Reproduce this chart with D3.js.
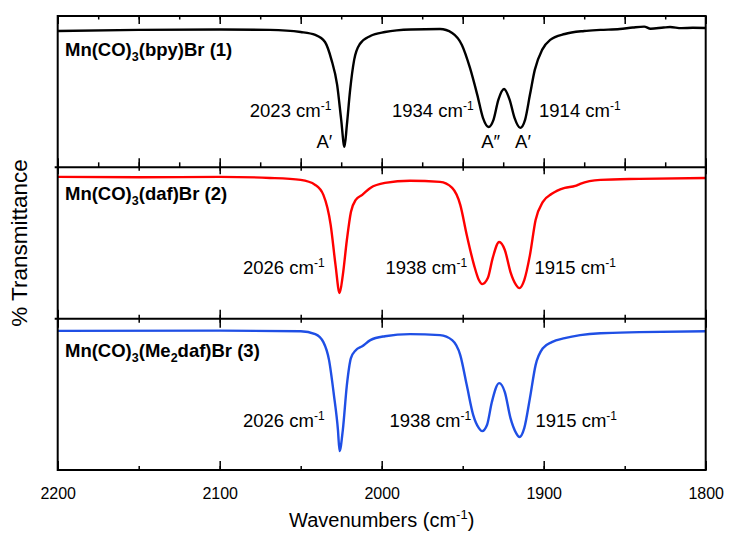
<!DOCTYPE html>
<html>
<head>
<meta charset="utf-8">
<script src="https://cdn.jsdelivr.net/npm/d3@7"></script>
<style>
  body { margin: 0; background: #fff; }
  svg { font-family: "Liberation Sans", Arial, sans-serif; }
</style>
</head>
<body>
<svg id="chart"></svg>
<script>
// Chart size
const width = 729, height = 536;
const margin = {left: 57.7, right: 23.3, top: 16, bottom: 66};

// --- data (wavenumber in cm-1, relative % transmittance per panel) ---
const bpyWn = [2200, 2150, 2100, 2069, 2050, 2041, 2035, 2031, 2027.5, 2025, 2023, 2021.5, 2019.5, 2017, 2013.5, 2007,
  1998, 1982, 1964, 1956.5, 1950.5, 1945.5, 1941, 1937.5, 1934, 1931, 1928, 1924.5, 1921, 1918, 1914.5, 1911.5,
  1908.5, 1905.5, 1901, 1896, 1887, 1875, 1865, 1853, 1845, 1838, 1834, 1826, 1822, 1815, 1808, 1800];
const bpyT = [90.1, 90.8, 91.1, 90.8, 89.4, 87.5, 82.8, 71, 54.5, 31.4, 13.5, 28, 51, 71, 81.5, 86.8,
  89.4, 91.1, 91.4, 88.8, 80.9, 65.7, 47.9, 32.7, 26.7, 31.4, 44.6, 51.8, 44.6, 32.7, 26.1, 31.4,
  47.9, 64.4, 77.6, 84.2, 88.1, 90.1, 90.8, 91.4, 92.4, 93.0, 91.6, 92.4, 92.7, 92.0, 92.2, 92.1];

const dafWn = [2200, 2149, 2100, 2069, 2050, 2041, 2036, 2031.5, 2028.5, 2026, 2024, 2021.5, 2019, 2016, 2012, 2007,
  1998, 1982.5, 1964, 1956.5, 1951.5, 1947.5, 1943, 1940, 1938, 1934.5, 1931.5, 1927.5, 1924, 1920.5, 1917, 1915,
  1912, 1908.5, 1905, 1900.5, 1895, 1887, 1880.5, 1877.5, 1865, 1841, 1800];
const dafT = [93.7, 93.4, 93.7, 93, 91.7, 88.4, 81.8, 62, 35.4, 16.9, 28.8, 52, 70.5, 78.5, 81.8, 86.4,
  89.7, 91.1, 90.4, 86.4, 75.2, 55.3, 35.4, 25.5, 22.8, 26.8, 40, 50.7, 45.4, 30.8, 22.2, 20.2,
  25.5, 42, 65.2, 77.2, 82.5, 86.4, 87.7, 89.1, 91.7, 92.4, 93];

const me2Wn = [2200, 2100, 2050, 2041, 2036, 2032.5, 2029.5, 2027, 2026, 2024, 2021.5, 2019, 2016, 2012, 2007,
  1998, 1982.5, 1964, 1956.5, 1951.5, 1947.5, 1943.5, 1940, 1938, 1935, 1932, 1927.5, 1924, 1920.5, 1917, 1915,
  1912, 1908.5, 1905, 1900.5, 1895, 1887, 1877.5, 1865, 1841, 1800];
const me2T = [91.9, 92.1, 91.7, 89.8, 84.5, 72.6, 49.5, 26.4, 12.5, 26.4, 56.1, 73.9, 79.2, 81.8, 85.8,
  88.4, 89.8, 89.1, 85.8, 75.9, 56.1, 36.3, 27.7, 25.7, 29.7, 44.9, 57.4, 51.5, 34.3, 24.4, 21.8,
  27.7, 47.5, 69.3, 80.5, 84.5, 87.1, 89.1, 90.4, 91.1, 91.7];

// peak labels
const bpyPeaks = [2023, 1934, 1914];
const bpySym = ["A\u2032", "A\u2033", "A\u2032"];
const dafPeaks = [2026, 1938, 1915];
const me2Peaks = [2026, 1938, 1915];

// axis ticks
const xTickLabels = [2200, 2100, 2000, 1900, 1800];

// --- setup ---
const svg = d3.select("#chart")
  .attr("width", width)
  .attr("height", height);

const x = d3.scaleLinear()
  .domain([2200, 1800])
  .range([margin.left, width - margin.right]);

const plotBottom = height - margin.bottom;
const panelH = (plotBottom - margin.top) / 3;

const panels = [
  {wn: bpyWn, t: bpyT, color: "#000000", peaks: bpyPeaks,
   title: [["Mn(CO)", 0], ["3", 1], ["(bpy)Br (1)", 0]], titleY: 39.5, labelY: 101,
   offs: [-13, -15, 18], major: 50, minor: 25, topLen: [8, 3.5], botLen: [9, 5]},
  {wn: dafWn, t: dafT, color: "#ff0000", peaks: dafPeaks,
   title: [["Mn(CO)", 0], ["3", 1], ["(daf)Br (2)", 0]], titleY: 32.5, labelY: 106.5,
   offs: [-15, -15, 15], major: 100, minor: 50, topLen: [7, 3.5], botLen: [9, 4]},
  {wn: me2Wn, t: me2T, color: "#1f4fe5", peaks: me2Peaks,
   title: [["Mn(CO)", 0], ["3", 1], ["(Me", 0], ["2", 1], ["daf)Br (3)", 0]], titleY: 38.5, labelY: 108.5,
   offs: [-15, -11, 16], major: 100, minor: 50, topLen: [9, 4], botLen: [9, 4]}
];

const line = d3.line().curve(d3.curveMonotoneX);

function tickSet(step) {
  return d3.range(2200, 1799, -step);
}

// writes "#### cm-1" with a superscript
function cmLabel(sel, value) {
  sel.append("tspan").text(value + " cm");
  sel.append("tspan").attr("dy", -7).attr("font-size", 12).text("-1");
}

panels.forEach((p, i) => {
  const top = margin.top + i * panelH;
  const y = d3.scaleLinear().domain([0, 100]).range([top + panelH, top]);
  const g = svg.append("g");

  // ticks on top and bottom edges of the panel (inward)
  [[p.major, 0], [p.minor, 1]].forEach(([step, k]) => {
    g.append("g")
      .attr("transform", `translate(0,${top})`)
      .call(d3.axisTop(x).tickValues(tickSet(step)).tickSize(-p.topLen[k]).tickSizeOuter(0).tickFormat(""))
      .call(a => a.select(".domain").remove())
      .selectAll("line").attr("stroke", "#000").attr("stroke-width", 1.5);
    g.append("g")
      .attr("transform", `translate(0,${top + panelH})`)
      .call(d3.axisBottom(x).tickValues(tickSet(step)).tickSize(-p.botLen[k]).tickSizeOuter(0).tickFormat(""))
      .call(a => a.select(".domain").remove())
      .selectAll("line").attr("stroke", "#000").attr("stroke-width", 1.5);
  });

  // spectrum
  const pts = p.wn.map((w, j) => [x(w), y(p.t[j])]);
  g.append("path")
    .attr("d", line(pts))
    .attr("fill", "none")
    .attr("stroke", p.color)
    .attr("stroke-width", 2.4)
    .attr("stroke-linejoin", "round");

  // compound title
  const title = g.append("text")
    .attr("x", 65)
    .attr("y", top + p.titleY)
    .attr("font-size", 18.5)
    .attr("font-weight", "bold");
  let shifted = false;
  p.title.forEach(([s, sub]) => {
    const ts = title.append("tspan").text(s);
    if (sub) { ts.attr("dy", 5).attr("font-size", 12.5); shifted = true; }
    else if (shifted) { ts.attr("dy", -5); shifted = false; }
  });

  // peak labels
  p.peaks.forEach((pk, j) => {
    const t = g.append("text")
      .attr("x", x(pk) + p.offs[j])
      .attr("y", top + p.labelY)
      .attr("font-size", 18.5)
      .attr("text-anchor", j < 2 ? "end" : "start");
    cmLabel(t, pk);
  });

  // symmetry labels for the first compound
  if (p.peaks === bpyPeaks) {
    const symOffs = [-20, 2, 2];
    bpySym.forEach((s, j) => {
      g.append("text")
        .attr("x", x(bpyPeaks[j]) + symOffs[j])
        .attr("y", top + 132)
        .attr("font-size", 18.5)
        .attr("text-anchor", "middle")
        .text(s);
    });
  }
});

// frame and panel separators
svg.append("rect")
  .attr("x", margin.left).attr("y", margin.top)
  .attr("width", x.range()[1] - margin.left)
  .attr("height", plotBottom - margin.top)
  .attr("fill", "none").attr("stroke", "#000").attr("stroke-width", 2);

[1, 2].forEach(k => {
  svg.append("line")
    .attr("x1", margin.left - 3).attr("x2", x.range()[1])
    .attr("y1", margin.top + k * panelH).attr("y2", margin.top + k * panelH)
    .attr("stroke", "#000").attr("stroke-width", 2);
});

// bottom tick labels
svg.append("g")
  .attr("transform", `translate(0,${plotBottom})`)
  .call(d3.axisBottom(x).tickValues(xTickLabels).tickSize(0).tickPadding(17.5).tickFormat(d3.format("d")))
  .call(a => a.select(".domain").remove())
  .selectAll("text")
  .attr("font-size", 16)
  .attr("font-family", "Liberation Sans, Arial, sans-serif")
  .attr("fill", "#000");

// axis titles
const xt = svg.append("text")
  .attr("x", (margin.left + x.range()[1]) / 2)
  .attr("y", 527)
  .attr("text-anchor", "middle")
  .attr("font-size", 20);
xt.append("tspan").text("Wavenumbers (cm");
xt.append("tspan").attr("dy", -8).attr("font-size", 13).text("-1");
xt.append("tspan").attr("dy", 8).text(")");

svg.append("text")
  .attr("transform", `translate(27,${(margin.top + plotBottom) / 2}) rotate(-90)`)
  .attr("text-anchor", "middle")
  .attr("font-size", 22.5)
  .text("% Transmittance");
</script>
</body>
</html>
